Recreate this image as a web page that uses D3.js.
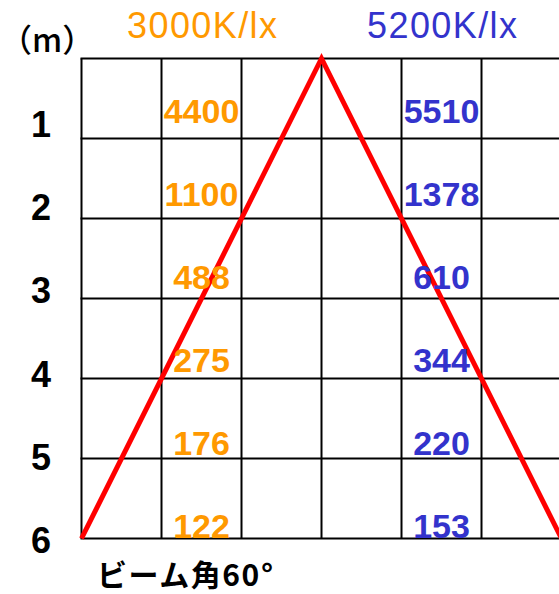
<!DOCTYPE html>
<html>
<head>
<meta charset="utf-8">
<script src="https://cdn.jsdelivr.net/npm/d3@7"></script>
<style>
  html, body { margin: 0; padding: 0; background: #fff; }
  svg { display: block; }
</style>
</head>
<body>
<svg id="chart" width="559" height="594"></svg>
<script>
// ---- data ----
const distances = [1, 2, 3, 4, 5, 6];
const lux3000 = [4400, 1100, 488, 275, 176, 122];
const lux5200 = [5510, 1378, 610, 344, 220, 153];
const seriesLabels = ["3000K/lx", "5200K/lx"];
const unitLabel = "（m）";
const beamLabel = "ビーム角60°";
const beamEdges = [[-3, 6], [0, 0], [3, 6]]; // [column offset, distance]

const svg = d3.select("#chart");
const orange = "#FF9900", blue = "#3333CC";

const x = d3.scaleLinear().domain([-3, 3]).range([81.5, 561.5]);
const y = d3.scaleLinear().domain([0, 6]).range([58.5, 538.5]);

// grid
const g = svg.append("g");
g.selectAll("line.v").data(d3.range(-3, 4)).join("line")
  .attr("x1", d => x(d)).attr("x2", d => x(d))
  .attr("y1", y(0)).attr("y2", y(6))
  .attr("stroke", "#000").attr("stroke-width", 2);
g.selectAll("line.h").data(d3.range(0, 7)).join("line")
  .attr("x1", x(-3) - 1).attr("x2", x(3) + 1)
  .attr("y1", d => y(d)).attr("y2", d => y(d))
  .attr("stroke", "#000").attr("stroke-width", 2);

// beam
const line = d3.line().x(d => x(d[0])).y(d => y(d[1]));
svg.append("path").datum(beamEdges).attr("d", line)
  .attr("fill", "none").attr("stroke", "#FF0000").attr("stroke-width", 5)
  .attr("stroke-linejoin", "miter");

const numFont = "'Liberation Sans', Arial, sans-serif";
const baseY = (d) => y(d) - 16 + (d - 1) * 3;

// values
function values(arr, col, color) {
  svg.append("g").selectAll("text").data(arr).join("text")
    .attr("x", x(col))
    .attr("y", (v, i) => baseY(distances[i]))
    .attr("text-anchor", "middle")
    .attr("font-family", numFont).attr("font-weight", "bold")
    .attr("font-size", 34).attr("fill", color)
    .text(v => v);
}
values(lux3000, -1.5, orange);
values(lux5200, 1.5, blue);

// row labels
svg.append("g").selectAll("text").data(distances).join("text")
  .attr("x", 41).attr("y", d => 137 + (d - 1) * 83.2)
  .attr("text-anchor", "middle")
  .attr("font-family", numFont).attr("font-weight", "bold")
  .attr("font-size", 36).attr("fill", "#000")
  .text(d => d);

// headers
svg.append("text").attr("x", 127).attr("y", 38)
  .attr("font-family", numFont).attr("font-size", 36).attr("fill", orange)
  .attr("textLength", 150).attr("lengthAdjust", "spacing")
  .text(seriesLabels[0]);
svg.append("text").attr("x", 367).attr("y", 38)
  .attr("font-family", numFont).attr("font-size", 36).attr("fill", blue)
  .attr("textLength", 150).attr("lengthAdjust", "spacing")
  .text(seriesLabels[1]);

// unit
svg.append("text").attr("x", 0).attr("y", 52)
  .attr("font-family", "'Noto Sans CJK JP', sans-serif").attr("font-weight", 500)
  .attr("font-size", 32).attr("fill", "#000")
  .text(unitLabel);

// beam angle label
svg.append("text").attr("x", 97).attr("y", 586)
  .attr("font-family", "'Noto Sans CJK JP', sans-serif").attr("font-weight", 700)
  .attr("font-size", 30).attr("fill", "#000")
  .attr("textLength", 176).attr("lengthAdjust", "spacing")
  .text(beamLabel);
</script>
</body>
</html>
